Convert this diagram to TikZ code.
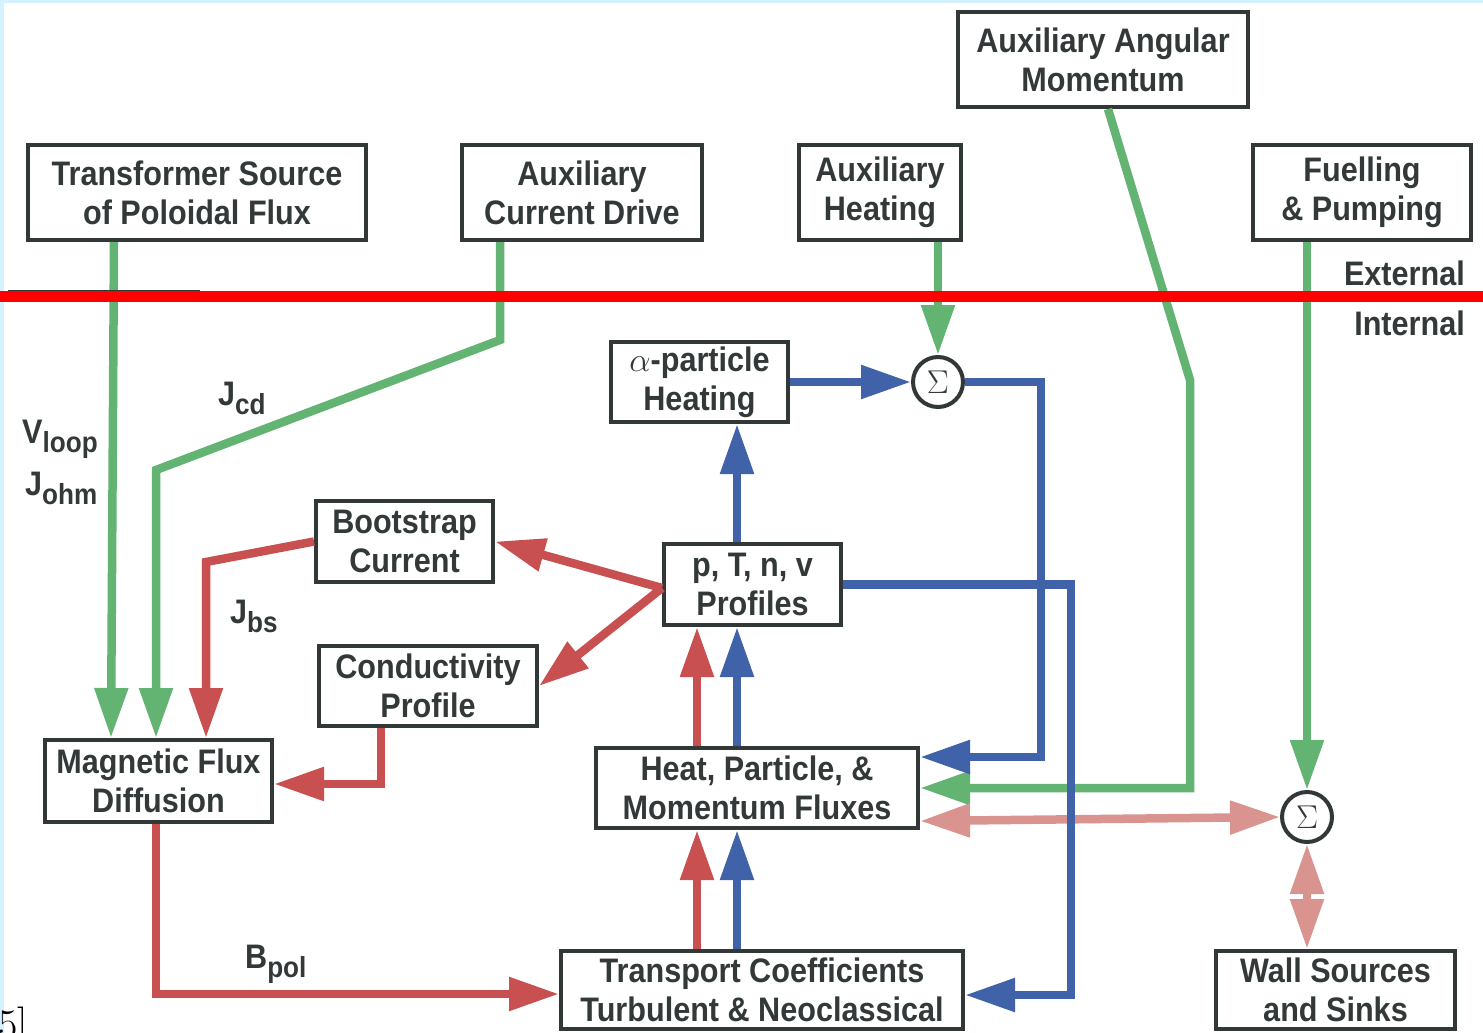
\RequirePackage{fix-cm}
\documentclass[tikz,border=0pt]{standalone}
\usepackage{fontspec}
\usetikzlibrary{arrows.meta}
\newfontfamily\dfont[FakeStretch=0.9]{Liberation Sans}
\definecolor{gC}{HTML}{63B473}
\definecolor{bC}{HTML}{4062A8}
\definecolor{rC}{HTML}{C85050}
\definecolor{pC}{HTML}{D9948F}
\definecolor{boxC}{HTML}{323838}
\definecolor{txtC}{HTML}{333939}
\definecolor{edgeC}{HTML}{D5F1FF}
\newcommand\sbt[1]{\raisebox{-9pt}{\fontsize{29}{29}\selectfont #1}}
\tikzset{
  box/.style={draw=boxC, line width=4pt, fill=white, align=center, inner sep=0pt,
    text=txtC, font=\dfont\bfseries\fontsize{34}{39}\selectfont},
  sig/.style={circle, draw=boxC, line width=4pt, fill=white, minimum size=50pt,
    inner sep=0pt, text=txtC, font=\fontsize{33}{33}\selectfont},
  lbl/.style={inner sep=0pt, text=txtC, font=\dfont\bfseries\fontsize{34}{39}\selectfont},
  arr/.style={-{Triangle[length=50pt,width=32pt]}},
  arrb/.style={{Triangle[length=50pt,width=32pt]}-{Triangle[length=50pt,width=32pt]}},
  gline/.style={draw=gC, line width=8.5pt, arr},
  bline/.style={draw=bC, line width=8.5pt, arr},
  rline/.style={draw=rC, line width=8.5pt, arr},
  pline/.style={draw=pC, line width=8.5pt, arrb},
}
\begin{document}
\begin{tikzpicture}[x=1pt,y=-1pt]
\useasboundingbox (0,0) rectangle (1483,1033);
\clip (0,0) rectangle (1483,1033);
\fill[edgeC] (0,0) rectangle (1483,1033);
\fill[white] (4,3) rectangle (1483,1033);

% boxes
\node[box, minimum width=338pt, minimum height=95pt] (tsrc) at (197,192.5) {Transformer Source\\of Poloidal Flux};
\node[box, minimum width=240pt, minimum height=95pt] (acd) at (582,192.5) {Auxiliary\\Current Drive};
\node[box, minimum width=162pt, minimum height=95pt] (ah) at (880,192.5) {Auxiliary\\Heating};
\node[box, minimum width=290pt, minimum height=95pt] (aam) at (1103,59.5) {Auxiliary Angular\\Momentum};
\node[box, minimum width=218pt, minimum height=95pt] (fp) at (1362,192.5) {Fuelling\\\& Pumping};
\node[box, minimum width=177pt, minimum height=80pt] (alpha) at (699.5,382) {\(\alpha\)-particle\\Heating};
\node[box, minimum width=177pt, minimum height=81pt] (bs) at (404.5,541.5) {Bootstrap\\Current};
\node[box, minimum width=177pt, minimum height=81pt] (prof) at (752.5,584.5) {p, T, n, v\\Profiles};
\node[box, minimum width=218pt, minimum height=80pt] (cond) at (428,686) {Conductivity\\Profile};
\node[box, minimum width=227pt, minimum height=82pt] (mfd) at (158.5,781) {Magnetic Flux\\Diffusion};
\node[box, minimum width=322pt, minimum height=80pt] (heat) at (757,788) {Heat, Particle, \&\\Momentum Fluxes};
\node[box, minimum width=402pt, minimum height=78pt] (trans) at (762,990) {Transport Coefficients\\Turbulent \& Neoclassical};
\node[box, minimum width=239pt, minimum height=78pt] (wall) at (1335.5,990) {Wall Sources\\and Sinks};
\node[sig] (s1) at (938,382) {$\Sigma$};
\node[sig] (s2) at (1307,817) {$\Sigma$};

% labels
\node[lbl, anchor=base west] (lv) at (22,443) {V\sbt{loop}};
\node[lbl, anchor=base west] (lj) at (25,495) {J\sbt{ohm}};
\node[lbl, anchor=base west] (lcd) at (218,405) {J\sbt{cd}};
\node[lbl, anchor=base west] (lbs) at (230,623) {J\sbt{bs}};
\node[lbl, anchor=base west] (lb) at (245,968) {B\sbt{pol}};
\node[inner sep=0pt, anchor=base west, font=\fontsize{42}{42}\selectfont] (ref) at (-2,1038) {5]};

% green connectors
\draw[gline] ([xshift=-83pt]tsrc.south) -- ([xshift=-47.5pt]mfd.north);
\draw[gline] ([xshift=-82pt]acd.south) -- (500,340) -- (156,470) -- ([xshift=-2.5pt]mfd.north);
\draw[gline] ([xshift=58pt]ah.south) -- (s1.north);
\draw[gline] ([xshift=5pt]aam.south) -- (1190,380) -- (1190,788) -- (heat.east);
\draw[gline] ([xshift=-55pt]fp.south) -- (s2.north);

% pink connectors
\draw[pline] ([yshift=-33pt]heat.east) -- (s2.west);
\draw[pline] (s2.south) -- ([xshift=-28.5pt]wall.north);

% red connectors
\draw[rline] ([yshift=-3.5pt]prof.west) -- (bs.east);
\draw[rline] ([yshift=-3.5pt]prof.west) -- (cond.east);
\draw[rline] (bs.west) -- (206,562) -- ([xshift=47.5pt]mfd.north);
\draw[rline] ([xshift=-47pt]cond.south) -- (381,784) -- ([yshift=-3pt]mfd.east);
\draw[rline] ([xshift=-2.5pt]mfd.south) -- (156,994) -- ([yshift=-4pt]trans.west);
\draw[rline] ([xshift=-60pt]heat.north) -- ([xshift=-55.5pt]prof.south);
\draw[rline] ([xshift=-65pt]trans.north) -- ([xshift=-60pt]heat.south);

% blue connectors
\draw[bline] (prof.east) -- (1071,584.5) -- (1071,995) -- ([yshift=-5pt]trans.east);
\draw[bline] (alpha.east) -- (s1.west);
\draw[bline] (s1.east) -- (1041,382) -- (1041,757) -- ([yshift=31pt]heat.east);
\draw[bline] ([xshift=-15.5pt]prof.north) -- ([xshift=37.5pt]alpha.south);
\draw[bline] ([xshift=-20pt]heat.north) -- ([xshift=-15.5pt]prof.south);
\draw[bline] ([xshift=-25pt]trans.north) -- ([xshift=-20pt]heat.south);

% boundary line
\draw[boxC, line width=2pt] (8,291) -- (200,291);
\draw[red, line width=11pt] (0,296) -- (1483,296);
\node[lbl, anchor=base east] (lext) at (1465,285) {External};
\node[lbl, anchor=base east] (lint) at (1465,335) {Internal};
\end{tikzpicture}
\end{document}
